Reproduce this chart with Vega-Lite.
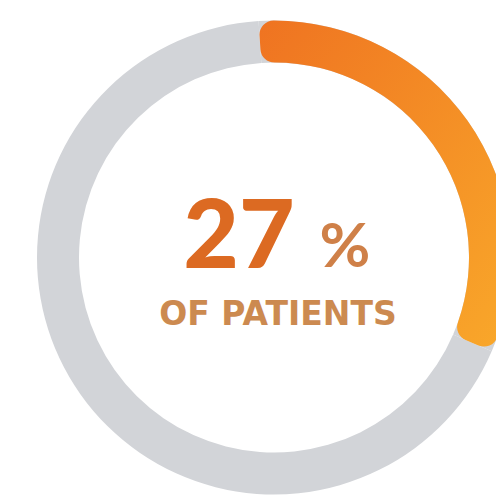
{
  "$schema": "https://vega.github.io/schema/vega-lite/v6.json",
  "width": 474,
  "height": 475,
  "autosize": "none",
  "padding": {"left": 37, "top": 20, "right": 0, "bottom": 0},
  "background": "#ffffff",
  "view": {"stroke": null},
  "layer": [
    {
      "data": {"values": [{"group": "Patients", "pct": 32.5}, {"group": "Other", "pct": 67.5}]},
      "mark": {"type": "arc", "radius": 237, "radius2": 195, "fill": "#d2d4d8"},
      "encoding": {
        "theta": {"field": "pct", "type": "quantitative", "stack": true, "scale": {"range": [-0.065, 6.2182]}},
        "order": {"field": "pct", "type": "quantitative", "sort": "ascending"}
      }
    },
    {
      "data": {"values": [{"group": "Patients", "pct": 32.5}, {"group": "Other", "pct": 67.5}]},
      "mark": {
        "type": "arc", "radius": 237, "radius2": 195, "cornerRadius": 14,
        "fill": {"gradient": "linear", "x1": 0, "y1": 0, "x2": 1, "y2": 1,
          "stops": [{"offset": 0, "color": "#ef7321"}, {"offset": 1, "color": "#f9a82a"}]}
      },
      "encoding": {
        "theta": {"field": "pct", "type": "quantitative", "stack": true},
        "order": {"field": "pct", "type": "quantitative", "sort": "ascending"},
        "opacity": {"condition": {"test": "datum.group === 'Patients'", "value": 1}, "value": 0}
      }
    },
    {
      "data": {"values": [{"label": "27"}]},
      "mark": {"type": "text", "font": "Lato", "fontWeight": 900, "fontSize": 96, "fill": "#dc6a22", "align": "center", "baseline": "alphabetic", "dx": -35, "dy": 10.5},
      "encoding": {"text": {"field": "label", "type": "nominal"}}
    },
    {
      "data": {"values": [{"label": "%"}]},
      "mark": {"type": "text", "font": "Lato", "fontWeight": "bold", "fontSize": 62, "fill": "#cf8048", "align": "center", "baseline": "alphabetic", "dx": 71, "dy": 9.5},
      "encoding": {"text": {"field": "label", "type": "nominal"}}
    },
    {
      "data": {"values": [{"label": "OF PATIENTS"}]},
      "mark": {"type": "text", "font": "DejaVu Sans", "fontWeight": "bold", "fontSize": 33, "fill": "#cc8a50", "align": "center", "baseline": "alphabetic", "dx": 4, "dy": 67.5},
      "encoding": {"text": {"field": "label", "type": "nominal"}}
    }
  ]
}
